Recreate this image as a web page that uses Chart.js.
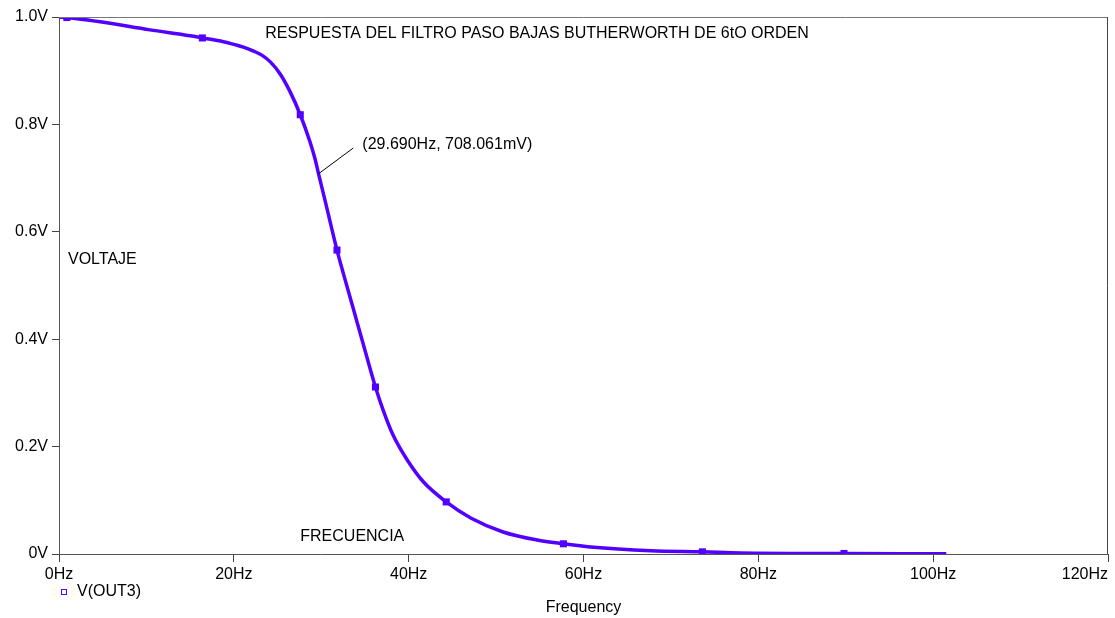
<!DOCTYPE html>
<html>
<head>
<meta charset="utf-8">
<script src="https://cdn.jsdelivr.net/npm/chart.js@4/dist/chart.umd.min.js"></script>
<style>
  html, body { margin: 0; padding: 0; background: #fff; }
  #wrap { width: 1115px; height: 618px; }
</style>
</head>
<body>
<div id="wrap"><canvas id="c" width="1115" height="618"></canvas></div>
<script>
// ---- data ----
const freqHz = [0, 0.9, 4.7, 10.4, 15.0, 16.4, 18.8, 20.0, 21.1, 22.2, 23.2, 24.2, 25.3, 26.4, 27.6, 28.7, 29.3, 29.69, 30.5, 31.8, 32.5, 33.7, 34.8, 36.2, 37.1, 38.2, 39.8, 41.7, 44.3, 47.1, 50.8, 54.7, 57.7, 60.8, 67.7, 73.6, 78.0, 89.8, 101.5];
const voltV  = [1.0, 0.999, 0.991, 0.976, 0.965, 0.961, 0.954, 0.949, 0.944, 0.937, 0.929, 0.916, 0.894, 0.862, 0.818, 0.768, 0.735, 0.708, 0.654, 0.566, 0.524, 0.455, 0.391, 0.311, 0.267, 0.222, 0.176, 0.134, 0.097, 0.067, 0.041, 0.026, 0.019, 0.013, 0.006, 0.004, 0.002, 0.001, 0.0003];
const markerFreqHz = [0.9, 16.4, 27.6, 31.8, 36.2, 44.3, 57.7, 73.6, 89.8];
const markerVoltV  = [0.999, 0.961, 0.818, 0.566, 0.311, 0.097, 0.019, 0.004, 0.001];
const xTickLabels = ['0Hz', '20Hz', '40Hz', '60Hz', '80Hz', '100Hz', '120Hz'];
const yTickLabels = ['0V', '0.2V', '0.4V', '0.6V', '0.8V', '1.0V'];
const seriesName = 'V(OUT3)';
const cursorPoint = { f: 29.69, v: 0.708061 };
const cursorLabel = '(29.690Hz, 708.061mV)';
const titleText = 'RESPUESTA DEL FILTRO PASO BAJAS BUTHERWORTH DE 6tO ORDEN';
const yNote = 'VOLTAJE';
const xNote = 'FRECUENCIA';
const xAxisTitle = 'Frequency';

const lineColor = '#5200ff';
const FONT = '"Liberation Sans", Arial, sans-serif';
const FS = 16;

const curve = freqHz.map((f, i) => ({ x: f, y: voltV[i] }));
const marks = markerFreqHz.map((f, i) => ({ x: f, y: markerVoltV[i] }));

const overlay = {
  id: 'overlay',
  afterDraw(chart) {
    const { ctx, chartArea: a, scales: { x, y } } = chart;
    ctx.save();
    // frame (top and right)
    ctx.lineWidth = 1;
    ctx.strokeStyle = '#777';
    ctx.beginPath();
    ctx.moveTo(a.left, a.top + 0.5);
    ctx.lineTo(a.right, a.top + 0.5);
    ctx.stroke();
    ctx.strokeStyle = '#444';
    ctx.beginPath();
    ctx.moveTo(a.right - 0.5, a.top);
    ctx.lineTo(a.right - 0.5, a.bottom);
    ctx.stroke();

    ctx.fillStyle = '#000';
    ctx.font = FS + 'px ' + FONT;
    ctx.textBaseline = 'middle';

    // x tick labels (kept inside the plot width, as in the reference)
    ctx.textAlign = 'left';
    x.ticks.forEach((t, i) => {
      const label = xTickLabels[i];
      const w = ctx.measureText(label).width;
      let px = x.getPixelForValue(t.value) - w / 2;
      if (px + w > a.right) px = a.right - w;
      ctx.fillText(label, px, a.bottom + 21);
    });

    ctx.fillText(titleText, x.getPixelForValue(23.6), y.getPixelForValue(0.970));
    ctx.fillText(yNote, x.getPixelForValue(1.03), y.getPixelForValue(0.549));
    ctx.fillText(xNote, x.getPixelForValue(27.6), y.getPixelForValue(0.032));
    ctx.fillText(cursorLabel, x.getPixelForValue(34.7), y.getPixelForValue(0.762));

    // leader line for cursor
    ctx.strokeStyle = '#000';
    ctx.lineWidth = 1;
    ctx.beginPath();
    ctx.moveTo(x.getPixelForValue(cursorPoint.f), y.getPixelForValue(cursorPoint.v));
    ctx.lineTo(x.getPixelForValue(33.66), y.getPixelForValue(0.756));
    ctx.stroke();

    // legend
    const lx = a.left + 5, ly = a.bottom + 38;
    ctx.strokeStyle = lineColor;
    ctx.lineWidth = 1;
    ctx.strokeRect(lx - 2.5, ly - 2.5, 5, 5);
    ctx.fillStyle = '#000';
    ctx.fillText(seriesName, a.left + 18, ly);
    ctx.restore();
  }
};

new Chart(document.getElementById('c'), {
  type: 'scatter',
  data: {
    datasets: [
      {
        label: seriesName,
        data: curve,
        showLine: true,
        borderColor: lineColor,
        backgroundColor: lineColor,
        borderWidth: 3.5,
        pointRadius: 0,
        cubicInterpolationMode: 'monotone',
        order: 2
      },
      {
        label: seriesName + ' markers',
        data: marks,
        showLine: false,
        pointStyle: 'rect',
        pointRadius: 5,
        borderWidth: 0,
        backgroundColor: lineColor,
        borderColor: lineColor,
        order: 1
      }
    ]
  },
  options: {
    responsive: false,
    animation: false,
    devicePixelRatio: 1,
    layout: { padding: { top: 17, right: 7, left: 0, bottom: 0 } },
    plugins: { legend: { display: false }, tooltip: { enabled: false } },
    scales: {
      x: {
        type: 'linear',
        min: 0, max: 120,
        afterFit(s) { s.height = 64; s.paddingLeft = 0; s.paddingRight = 0; },
        afterBuildTicks(s) { s.ticks = xTickLabels.map((_, i) => ({ value: i * 20 })); },
        ticks: { display: false, autoSkip: false, maxRotation: 0 },
        grid: { display: true, drawOnChartArea: false, drawTicks: true, tickLength: 8, color: '#444' },
        border: { display: true, color: '#555', width: 1 },
        title: {
          display: true, text: xAxisTitle, color: '#000',
          font: { family: FONT, size: FS }, padding: { top: 0, bottom: 1 }
        }
      },
      y: {
        type: 'linear',
        min: 0, max: 1,
        afterFit(s) { s.width = 59; s.paddingTop = 0; s.paddingBottom = 0; },
        afterBuildTicks(s) { s.ticks = yTickLabels.map((_, i) => ({ value: i * 0.2 })); },
        ticks: {
          autoSkip: false,
          padding: 4,
          color: '#000',
          font: { family: FONT, size: FS },
          callback: (v, i) => yTickLabels[i]
        },
        grid: { display: true, drawOnChartArea: false, drawTicks: true, tickLength: 7, color: '#444' },
        border: { display: true, color: '#555', width: 1 }
      }
    }
  },
  plugins: [overlay]
});
</script>
</body>
</html>
